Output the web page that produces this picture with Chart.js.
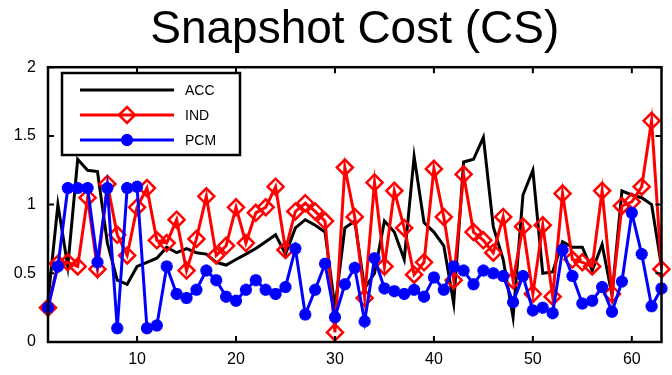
<!DOCTYPE html>
<html>
<head>
<meta charset="utf-8">
<script src="https://cdn.jsdelivr.net/npm/chart.js@4.4.1/dist/chart.umd.min.js"></script>
<style>
  html, body { margin: 0; padding: 0; background: #fff; }
  #wrap { width: 672px; height: 375px; }
</style>
</head>
<body>
<div id="wrap"><canvas id="grafico" width="672" height="375"></canvas></div>
<script>
// --- Datos ---
const xValores = [1, 2, 3, 4, 5, 6, 7, 8, 9, 10, 11, 12, 13, 14, 15, 16, 17, 18, 19, 20,
  21, 22, 23, 24, 25, 26, 27, 28, 29, 30, 31, 32, 33, 34, 35, 36, 37, 38, 39, 40,
  41, 42, 43, 44, 45, 46, 47, 48, 49, 50, 51, 52, 53, 54, 55, 56, 57, 58, 59, 60,
  61, 62, 63];

const accValores = [0.30, 1.00, 0.55, 1.33, 1.25, 1.24, 0.72, 0.45, 0.42, 0.55,
  0.58, 0.61, 0.69, 0.65, 0.68, 0.65, 0.64, 0.58, 0.56, 0.60,
  0.64, 0.68, 0.73, 0.78, 0.64, 0.83, 0.89, 0.85, 0.80, 0.25,
  0.83, 0.88, 0.39, 0.50, 0.88, 0.80, 0.60, 1.35, 0.87, 0.80,
  0.70, 0.28, 1.31, 1.33, 1.49, 0.84, 0.60, 0.18, 1.07, 1.25,
  0.50, 0.51, 0.73, 0.69, 0.69, 0.52, 0.71, 0.34, 1.10, 1.07,
  1.05, 1.00, 0.55];

const indValores = [0.25, 0.57, 0.58, 0.55, 1.05, 0.53, 1.15, 0.78, 0.63, 0.98,
  1.12, 0.74, 0.72, 0.89, 0.52, 0.75, 1.06, 0.63, 0.70, 0.98,
  0.72, 0.94, 0.98, 1.13, 0.67, 0.95, 1.01, 0.95, 0.88, 0.07,
  1.27, 0.91, 0.32, 1.16, 0.55, 1.10, 0.83, 0.49, 0.58, 1.26,
  0.91, 0.45, 1.22, 0.80, 0.74, 0.65, 0.91, 0.45, 0.84, 0.35,
  0.85, 0.33, 1.08, 0.60, 0.58, 0.55, 1.10, 0.35, 0.99, 1.02,
  1.13, 1.61, 0.53];

const pcmValores = [0.25, 0.55, 1.12, 1.12, 1.12, 0.58, 1.12, 0.10, 1.12, 1.13,
  0.10, 0.12, 0.55, 0.35, 0.32, 0.38, 0.52, 0.45, 0.33, 0.30,
  0.38, 0.45, 0.38, 0.35, 0.40, 0.68, 0.20, 0.38, 0.57, 0.18,
  0.42, 0.54, 0.15, 0.61, 0.39, 0.37, 0.35, 0.38, 0.33, 0.47,
  0.38, 0.55, 0.52, 0.42, 0.52, 0.50, 0.48, 0.29, 0.48, 0.23,
  0.25, 0.21, 0.67, 0.48, 0.28, 0.30, 0.40, 0.22, 0.44, 0.94,
  0.64, 0.26, 0.39];

const xTicks = [10, 20, 30, 40, 50, 60];
const yTicks = [0, 0.5, 1, 1.5, 2];
const etiquetas = ['ACC', 'IND', 'PCM'];

const FUENTE = '"Liberation Sans", Arial, Helvetica, sans-serif';

function puntos(valores) {
  return valores.map((v, i) => ({ x: xValores[i], y: v }));
}

// Caja de ejes estilo MATLAB con marcas hacia dentro + leyenda en la esquina
const cajaPlugin = {
  id: 'caja',
  afterDatasetsDraw(chart) {
    const { ctx, chartArea: a, scales } = chart;
    ctx.save();
    ctx.strokeStyle = '#000';
    ctx.lineWidth = 2.5;
    ctx.strokeRect(a.left, a.top, a.right - a.left, a.bottom - a.top);
    ctx.lineWidth = 2;
    const t = 6;
    ctx.beginPath();
    xTicks.forEach(v => {
      const px = scales.x.getPixelForValue(v);
      ctx.moveTo(px, a.bottom); ctx.lineTo(px, a.bottom - t);
      ctx.moveTo(px, a.top); ctx.lineTo(px, a.top + t);
    });
    yTicks.forEach(v => {
      const py = scales.y.getPixelForValue(v);
      ctx.moveTo(a.left, py); ctx.lineTo(a.left + t, py);
      ctx.moveTo(a.right, py); ctx.lineTo(a.right - t, py);
    });
    ctx.stroke();

    // leyenda
    const bx = 62, by = 73, bw = 178, bh = 82;
    ctx.fillStyle = '#fff';
    ctx.fillRect(bx, by, bw, bh);
    ctx.lineWidth = 2.5;
    ctx.strokeRect(bx, by, bw, bh);
    const filas = [90, 115, 140];
    chart.data.datasets.forEach((ds, i) => {
      const y = filas[i];
      ctx.strokeStyle = ds.borderColor;
      ctx.lineWidth = ds.borderWidth;
      ctx.beginPath();
      ctx.moveTo(80, y); ctx.lineTo(174, y);
      ctx.stroke();
      if (ds.pointRadius > 0) {
        ctx.fillStyle = ds.pointBackgroundColor;
        ctx.strokeStyle = ds.pointBorderColor;
        ctx.lineWidth = ds.pointBorderWidth;
        Chart.helpers.drawPoint(ctx, {
          pointStyle: ds.pointStyle,
          radius: ds.pointRadius,
          borderWidth: ds.pointBorderWidth,
          rotation: 0
        }, 127, y);
      }
      ctx.fillStyle = '#000';
      ctx.font = '14px ' + FUENTE;
      ctx.textBaseline = 'middle';
      ctx.textAlign = 'left';
      ctx.fillText(etiquetas[i], 185, y + 1);
    });
    ctx.restore();
  }
};

const ctx = document.getElementById('grafico');
new Chart(ctx, {
  type: 'line',
  data: {
    datasets: [
      {
        label: etiquetas[0],
        data: puntos(accValores),
        borderColor: '#000000',
        borderWidth: 3,
        pointRadius: 0,
        order: 3,
        clip: false
      },
      {
        label: etiquetas[1],
        data: puntos(indValores),
        borderColor: '#ff0000',
        borderWidth: 3,
        pointStyle: 'rectRot',
        pointRadius: 8,
        pointBorderWidth: 2.5,
        pointBackgroundColor: 'rgba(255,255,255,0)',
        pointBorderColor: '#ff0000',
        order: 2,
        clip: false
      },
      {
        label: etiquetas[2],
        data: puntos(pcmValores),
        borderColor: '#0000ff',
        borderWidth: 3,
        pointStyle: 'star',
        pointRadius: 6,
        pointBorderWidth: 4,
        pointBackgroundColor: '#0000ff',
        pointBorderColor: '#0000ff',
        order: 1,
        clip: false
      }
    ]
  },
  options: {
    responsive: false,
    animation: false,
    events: [],
    layout: { padding: { left: 0, right: 8, top: 0, bottom: 0 } },
    plugins: {
      legend: { display: false },
      tooltip: { enabled: false },
      title: {
        display: true,
        text: 'Snapshot Cost (CS)',
        fullSize: false,
        color: '#000',
        font: { family: FUENTE, size: 46, weight: 'normal', lineHeight: 1.2 },
        padding: { top: 3, bottom: 9 }
      }
    },
    scales: {
      x: {
        type: 'linear',
        min: 1,
        max: 63,
        grid: { display: false, drawTicks: false },
        border: { display: false },
        afterBuildTicks: s => { s.ticks = xTicks.map(v => ({ value: v })); },
        afterFit: s => { s.height = 33; },
        ticks: { color: '#000', padding: 8, maxRotation: 0, font: { family: FUENTE, size: 16 } }
      },
      y: {
        min: 0,
        max: 2,
        grid: { display: false, drawTicks: false },
        border: { display: false },
        afterBuildTicks: s => { s.ticks = yTicks.map(v => ({ value: v })); },
        afterFit: s => { s.width = 48; },
        ticks: {
          color: '#000',
          padding: 12,
          font: { family: FUENTE, size: 16 },
          callback: v => String(v)
        }
      }
    }
  },
  plugins: [cajaPlugin]
});
</script>
</body>
</html>
